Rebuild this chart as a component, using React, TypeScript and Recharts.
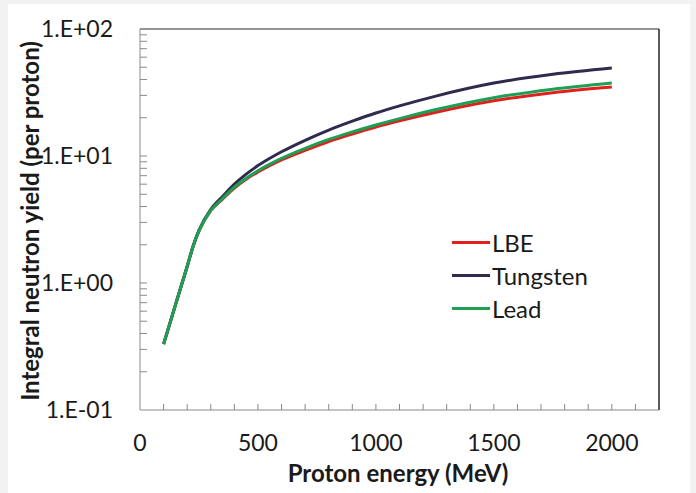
import React from "react";
import { LineChart, Line, XAxis, YAxis, ReferenceLine, Label } from "recharts";

const energy = [100, 150, 200, 225, 250, 300, 350, 400, 450, 500, 600, 700, 800, 900, 1000, 1100, 1250, 1500, 1750, 2000];
const lbe = [0.33, 0.67, 1.35, 1.94, 2.57, 3.71, 4.58, 5.6, 6.57, 7.48, 9.3, 11.07, 13.0, 14.9, 16.9, 18.9, 22.0, 27.2, 31.5, 34.9];
const tungsten = [0.33, 0.67, 1.35, 1.95, 2.6, 3.8, 4.8, 6.0, 7.2, 8.4, 10.8, 13.3, 16.0, 18.8, 21.8, 24.8, 29.5, 37.5, 44.0, 49.3];
const lead = [0.33, 0.67, 1.35, 1.94, 2.58, 3.73, 4.63, 5.68, 6.69, 7.66, 9.58, 11.5, 13.5, 15.5, 17.55, 19.7, 23.1, 28.8, 33.6, 37.6];

const xTicks = [0, 100, 200, 300, 400, 500, 600, 700, 800, 900, 1000, 1100, 1200, 1300, 1400, 1500, 1600, 1700, 1800, 1900, 2000, 2100, 2200];
const xMajor = [0, 500, 1000, 1500, 2000];
const yTicks = [0.1, 0.2, 0.3, 0.4, 0.5, 0.6, 0.7, 0.8, 0.9, 1, 2, 3, 4, 5, 6, 7, 8, 9, 10, 20, 30, 40, 50, 60, 70, 80, 90, 100];
const yMajor = [0.1, 1, 10, 100];
const yMajorLabels = ["1.E-01", "1.E+00", "1.E+01", "1.E+02"];

const seriesNames = ["LBE", "Tungsten", "Lead"];
const seriesColors = ["#e0201c", "#2f2b4d", "#1f9e55"];

const data = energy.map((e, i) => ({ e, lbe: lbe[i], tungsten: tungsten[i], lead: lead[i] }));

const FONT = "Lato, 'Open Sans', sans-serif";
const AXIS = "#8a8a8a";

const XTick = (props: any) => {
  const { x, y, payload } = props;
  const v = payload.value;
  const major = xMajor.indexOf(v) >= 0;
  return (
    <g>
      {v > 0 && v < 2200 && <line x1={x} y1={y} x2={x} y2={y - 6} stroke={AXIS} strokeWidth={1} />}
      {major && (
        <text x={x} y={y + 41} textAnchor="middle" fontFamily={FONT} fontSize={23} fill="#1a1a1a">
          {v}
        </text>
      )}
    </g>
  );
};

const YTick = (props: any) => {
  const { x, y, payload } = props;
  const v = payload.value;
  const mi = yMajor.findIndex((m) => Math.abs(m - v) < 1e-9);
  return (
    <g>
      {v < 100 && v > 0.1 && <line x1={x} y1={y} x2={x + 7} y2={y} stroke={AXIS} strokeWidth={1} />}
      {mi >= 0 && (
        <text x={x - 27} y={y + 8} textAnchor="end" fontFamily={FONT} fontSize={23} fill="#1a1a1a">
          {yMajorLabels[mi]}
        </text>
      )}
    </g>
  );
};

const LegendBox = () => (
  <div style={{ position: "absolute", left: 452, top: 226, fontFamily: FONT, fontSize: 24, color: "#1a1a1a" }}>
    {seriesNames.map((n, i) => (
      <div key={n} style={{ display: "flex", alignItems: "center", height: 33 }}>
        <div style={{ width: 38, height: 3, background: seriesColors[i], marginRight: 2 }} />
        <span>{n}</span>
      </div>
    ))}
  </div>
);

export default function App() {
  return (
    <div style={{ position: "absolute", left: 0, top: 0, width: 696, height: 493, background: "#f2f2f2" }}>
      <div style={{ position: "absolute", left: 8, top: 4, width: 682, height: 489, background: "#ffffff" }} />
      <div style={{ position: "absolute", left: 0, top: 0 }}>
        <LineChart width={696} height={493} data={data} margin={{ top: 29, right: 37, bottom: 0, left: 0 }}>
          <XAxis
            dataKey="e"
            type="number"
            domain={[0, 2200]}
            ticks={xTicks}
            interval={0}
            tickSize={0}
            tickMargin={0}
            tickLine={false}
            tick={<XTick />}
            axisLine={{ stroke: AXIS, strokeWidth: 1 }}
            height={83}
            allowDataOverflow
          >
            <Label
              content={() => (
                <text x={398} y={482} textAnchor="middle" fontFamily={FONT} fontWeight="bold" fontSize={24} fill="#1a1a1a">
                  Proton energy (MeV)
                </text>
              )}
            />
          </XAxis>
          <YAxis
            type="number"
            scale="log"
            domain={[0.1, 100]}
            ticks={yTicks}
            interval={0}
            tickSize={0}
            tickMargin={0}
            tickLine={false}
            tick={<YTick />}
            axisLine={{ stroke: AXIS, strokeWidth: 1 }}
            width={140}
            allowDataOverflow
          >
            <Label
              content={() => (
                <text
                  x={0}
                  y={0}
                  transform="translate(39,221) rotate(-90)"
                  textAnchor="middle"
                  fontFamily={FONT}
                  fontWeight="bold"
                  fontSize={24}
                  fill="#1a1a1a"
                >
                  Integral neutron yield (per proton)
                </text>
              )}
            />
          </YAxis>
          <ReferenceLine y={100} stroke="#707070" strokeWidth={1.5} />
          <ReferenceLine x={2200} stroke="#222222" strokeWidth={1.5} />
          <Line type="monotone" dataKey="lbe" stroke={seriesColors[0]} strokeWidth={3} dot={false} isAnimationActive={false} />
          <Line type="monotone" dataKey="tungsten" stroke={seriesColors[1]} strokeWidth={3} dot={false} isAnimationActive={false} />
          <Line type="monotone" dataKey="lead" stroke={seriesColors[2]} strokeWidth={3} dot={false} isAnimationActive={false} />
        </LineChart>
      </div>
      <LegendBox />
    </div>
  );
}
